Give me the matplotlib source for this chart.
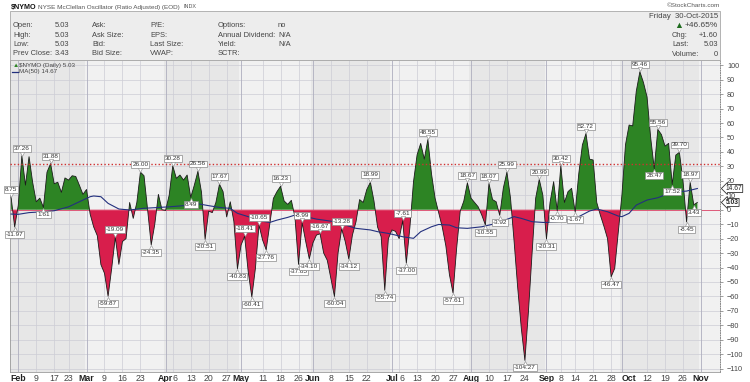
import numpy as np
import pandas as pd
import matplotlib
matplotlib.use('Agg')
import matplotlib.pyplot as plt
from matplotlib.patches import Rectangle

plt.rcParams['font.family'] = ['Liberation Sans', 'DejaVu Sans']

# ---------------- data ----------------
holidays = ['2015-02-16', '2015-04-03', '2015-05-25', '2015-07-03', '2015-09-07']
first_date = '2015-01-29'

# daily NYMO values, one per trading day from 2015-01-29 to 2015-10-30
nymo = [
    8.75, -11.97, 3, 37.26, 17, 36.7, 19, 5.5, 8, 1.61,
    26, 31.88, 18, 19, 12, 22, 20.5, 23.5, 23, 17,
    10.6, 14, -3, -12, -18, -38, -44, -59.87, -40.6, -19.09,
    -37.8, -22, -20, 5, -6, 5, 26.00, 23.5, 0, -24.35,
    -10, 10.6, 0, -0.5, 10, 30.28, 21.7, 24, 20.5, 24,
    8.49, 17, 26.56, 12, -20.51, -1, -2, 5, 17.67, 12.5,
    -5, 5.5, -8, -40.83, -24.5, -18.41, -43, -60.41, -40.6, -10.65,
    -21, -27.76, -10, 7.8, 12.5, 16.23, 6, 3.7, 6.5, -5,
    -37.85, -8.99, -22, -34.10, -23, -17.5, -16.67, -30, -35, -47.5,
    -60.04, -30, -13.28, -22, -34.12, -17.5, -8.3, 7, 5, 14,
    18.99, 6, -12, -18.7, -55.74, -20, -14, -15, -20, -7.61,
    -37.00, -12, 19.4, 38, 45.9, 35, 48.55, 25, 8, -2,
    -12, -25, -45, -57.61, -26.8, -1, 6, 18.67, 8, 5,
    2, -3.7, -10.55, 18.07, 7, 5.5, -3.92, 15, 25.99, 8,
    -22, -54, -82, -104.27, -70, -30, 8, 20.99, 10, -20.31,
    5, 19.4, -0.70, 30.42, 5, 12.5, 14.8, -1.67, 25, 44.8,
    52.72, 35, 34.4, 5, -3.7, -11.5, -20, -46.47, -40.6, -15,
    10, 45, 58.6, 58, 82, 95.46, 88, 78, 50, 28.47,
    55.56, 52, 44, 45.9, 17.52, 37.8, 39.70, 20, -8.45, 18.97,
    3.43, 5.03,
]

# MA(50) read at selected trading-day numbers (0 = 2015-01-29)
ma_day = [0, 2, 5, 9, 12, 16, 19, 22, 23, 25,
          27, 30, 33, 37, 40, 44, 48, 50, 52, 55,
          58, 61, 63, 66, 69, 72, 74, 77, 79, 82,
          85, 87, 90, 93, 96, 100, 102, 105, 109, 112,
          114, 117, 119, 122, 124, 127, 131, 135, 137, 140,
          142, 145, 148, 150, 152, 155, 158, 161, 163, 166,
          169, 170, 172, 174, 177, 180, 183, 186, 188, 191]
ma_vals = [-3, -3.2, -2, -1.4, -0.7, 2, 5.5, 9, 9.5, 9,
           4.4, 0.5, -0.2, 1, 1.4, 2, 2.8, 3.5, 4.1, 2.8,
           1.6, 0.9, -2.5, -4.8, -7.6, -8.8, -7.2, -5.3, -3.7, -4.8,
           -6.5, -7.2, -8.3, -10.6, -12.9, -14, -15.2, -16.4, -18.7, -19.8,
           -15.2, -11.8, -10.2, -10.6, -12.5, -12.9, -11.8, -9.5, -7.6, -4.8,
           -6, -8.3, -8.8, -8.8, -8.3, -6.7, -4.8, -0.9, 0.5, -1.4,
           -4.4, -4.8, -2.5, 3.2, 6.7, 8.3, 11.3, 12.5, 12.9, 14.67]

# labelled extremes (trading-day numbers)
peak_day = [0, 3, 11, 29, 36, 45, 52, 58, 65, 69, 75, 81, 86, 92,
            100, 109, 116, 127, 133, 138, 147, 153, 160, 175, 180, 186, 189]
trough_day = [1, 9, 27, 39, 50, 54, 63, 67, 71, 80, 83, 90, 94, 104,
              110, 123, 132, 136, 143, 149, 152, 157, 167, 179, 184, 188, 190]

tick_dates = ['2015-02-02', '2015-02-09', '2015-02-17', '2015-02-23', '2015-03-02',
              '2015-03-09', '2015-03-16', '2015-03-23', '2015-04-01', '2015-04-06',
              '2015-04-13', '2015-04-20', '2015-04-27', '2015-05-01', '2015-05-11',
              '2015-05-18', '2015-05-26', '2015-06-01', '2015-06-08', '2015-06-15',
              '2015-06-22', '2015-07-01', '2015-07-06', '2015-07-13', '2015-07-20',
              '2015-07-27', '2015-08-03', '2015-08-10', '2015-08-17', '2015-08-24',
              '2015-09-01', '2015-09-08', '2015-09-14', '2015-09-21', '2015-09-28',
              '2015-10-01', '2015-10-12', '2015-10-19', '2015-10-26', '2015-11-02']
tick_labels = ['Feb', '9', '17', '23', 'Mar', '9', '16', '23', 'Apr', '6',
               '13', '20', '27', 'May', '11', '18', '26', 'Jun', '8', '15',
               '22', 'Jul', '6', '13', '20', '27', 'Aug', '10', '17', '24',
               'Sep', '8', '14', '21', '28', 'Oct', '12', '19', '26', 'Nov']
month_starts = ['2015-02-02', '2015-03-02', '2015-04-01', '2015-05-01', '2015-06-01',
                '2015-07-01', '2015-08-03', '2015-09-01', '2015-10-01', '2015-11-02',
                '2015-12-01']

threshold = 31.6

# ---------------- positions on trading-day axis ----------------
cal = pd.bdate_range(first_date, '2015-12-31', freq='C', holidays=holidays)
pos = {d.strftime('%Y-%m-%d'): k for k, d in enumerate(cal)}
vals = np.array(nymo, dtype=float)
x = np.arange(len(vals))

W, H = 750, 382
fig = plt.figure(figsize=(W / 100, H / 100), dpi=100)
fig.patch.set_facecolor('white')

def fx(px):
    return px / W

def fy(py):
    return 1 - py / H

ax = fig.add_axes([fx(10), fy(372), fx(710), (372 - 60) / H])
ax.set_xlim(-0.3, 197.3)
ax.set_ylim(-112.3, 103.6)
ax.set_facecolor('#EEEEEE')

# month shading
shades = ['#E7E7E7', '#F1F1F1']
for k in range(len(month_starts) - 1):
    a = pos[month_starts[k]] - 0.5
    b = pos[month_starts[k + 1]] - 0.5
    if k == 0:
        a = -5
    ax.axvspan(a, b, color=shades[k % 2], lw=0, zorder=0)

# grid
for v in range(-110, 101, 10):
    ax.axhline(v, color='#CDCDD5', lw=0.5, zorder=1)
for d in tick_dates:
    col = '#AEAEBE' if d in month_starts else '#CDCDD5'
    ax.axvline(pos[d], color=col, lw=0.6 if d in month_starts else 0.5, zorder=1)

# fills
ax.fill_between(x, vals, 0, where=vals >= 0, interpolate=True, color='#2D8424', lw=0, zorder=2)
ax.fill_between(x, vals, 0, where=vals <= 0, interpolate=True, color='#D81E4C', lw=0, zorder=2)
ax.plot(x, vals, color='#1B1B1B', lw=0.6, zorder=3)
ax.axhline(0, color='#E0466A', lw=0.6, zorder=2)

# threshold dotted
ax.axhline(threshold, color='#D03030', lw=1.0, ls=(0, (1, 1.6)), zorder=3)

# MA
ax.plot(ma_day, ma_vals, color='#23307E', lw=0.8, zorder=4)

# value labels
box = dict(boxstyle='square,pad=0.15', fc='white', ec='#8A8A8A', lw=0.5)
for k in peak_day:
    ax.annotate(f'{vals[k]:.2f}', xy=(k, vals[k]), xytext=(0, 3.5), textcoords='offset points',
                ha='center', va='bottom', fontsize=4.6, color='#333333', bbox=box, zorder=6)
    ax.plot(k, vals[k] + 1.6, marker='v', ms=3, mfc='white', mec='#8A8A8A', mew=0.4, zorder=6)
for k in trough_day:
    ax.annotate(f'{vals[k]:.2f}', xy=(k, vals[k]), xytext=(0, -3.5), textcoords='offset points',
                ha='center', va='top', fontsize=4.6, color='#333333', bbox=box, zorder=6)
    ax.plot(k, vals[k] - 1.6, marker='^', ms=3, mfc='white', mec='#8A8A8A', mew=0.4, zorder=6)

# axes styling
ax.set_xticks([pos[d] for d in tick_dates])
ax.set_xticklabels(tick_labels)
labels = ax.get_xticklabels()
for j, (lbl, t) in enumerate(zip(labels, tick_labels)):
    lbl.set_fontweight('bold' if not t.isdigit() else 'normal')
    lbl.set_color('#222222' if not t.isdigit() else '#444444')
    # crowded pair: a month start followed closely by a Monday
    if j > 0 and pos[tick_dates[j]] - pos[tick_dates[j - 1]] <= 3:
        lbl.set_horizontalalignment('left')
        lbl.set_x(pos[tick_dates[j]] - 0.6)
ax.tick_params(axis='x', length=0, pad=1.5, labelsize=6.3)
ax.yaxis.tick_right()
ax.set_yticks(range(-110, 101, 10))
ax.tick_params(axis='y', length=2, width=0.5, color='#777777', pad=3, labelsize=5.2, labelcolor='#444444')
for s in ['top', 'left', 'bottom']:
    ax.spines[s].set_color('#9A9A9A')
    ax.spines[s].set_linewidth(0.6)
ax.spines['right'].set_color('#888888')
ax.spines['right'].set_linestyle((0, (1, 1.5)))
ax.spines['right'].set_linewidth(0.7)

# current value tags on right axis
tag = dict(boxstyle='larrow,pad=0.08', fc='white', ec='#333333', lw=0.6)
ax.annotate(f'{ma_vals[-1]:.2f}', xy=(1.0, ma_vals[-1]), xycoords=('axes fraction', 'data'),
            xytext=(4, 0), textcoords='offset points', ha='left', va='center',
            fontsize=4.8, color='#222222', bbox=tag, zorder=7, annotation_clip=False)
ax.annotate(f'{vals[-1]:.2f}', xy=(1.0, vals[-1]), xycoords=('axes fraction', 'data'),
            xytext=(4, 0), textcoords='offset points', ha='left', va='center',
            fontsize=4.8, color='#222222', fontweight='bold', bbox=tag, zorder=7,
            annotation_clip=False)

# legend inside chart
ax.text(0.004, 0.99, '\u25B2', transform=ax.transAxes, fontsize=4.5, color='#2D8424',
        va='top', ha='left', zorder=7)
ax.text(0.012, 0.99, f'$NYMO (Daily) {vals[-1]:.2f}', transform=ax.transAxes, fontsize=4.5,
        color='#444444', va='top', ha='left', zorder=7)
ax.plot([0.003, 0.011], [0.963, 0.963], transform=ax.transAxes, color='#23307E', lw=0.9, zorder=7)
ax.text(0.012, 0.972, f'MA(50) {ma_vals[-1]:.2f}', transform=ax.transAxes, fontsize=4.5,
        color='#444444', va='top', ha='left', zorder=7)

# ---------------- header ----------------
fig.text(fx(11), fy(7), '$NYMO', fontsize=5.2, fontweight='bold', color='#111111', va='center')
fig.text(fx(38.5), fy(7), 'NYSE McClellan Oscillator (Ratio Adjusted) (EOD)', fontsize=4.6,
         color='#555555', va='center')
fig.text(fx(183), fy(7), 'INDX', fontsize=3.9, color='#555555', va='center')
fig.text(fx(720), fy(5.5), '\u00A9StockCharts.com', fontsize=4.6, color='#555555', va='center', ha='right')

fig.patches.append(Rectangle((fx(10), fy(60)), fx(710), (60 - 11) / H, transform=fig.transFigure,
                             fc='#EDEDED', ec='#A8A8A8', lw=0.6, zorder=0))

rows_y = [25.5, 35.3, 44.3, 53.7]
info_cols = [
    (13, ['Open:', 'High:', 'Low:', 'Prev Close:']),
    (55, ['5.03', '5.03', '5.03', '3.43']),
    (92, ['Ask:', 'Ask Size:', 'Bid:', 'Bid Size:']),
    (150, ['P/E:', 'EPS:', 'Last Size:', 'VWAP:']),
    (218, ['Options:', 'Annual Dividend:', 'Yield:', 'SCTR:']),
    (278, ['no', 'N/A', 'N/A', '']),
]
for cx, texts in info_cols:
    for ry, t in zip(rows_y, texts):
        fig.text(fx(cx), fy(ry), t, fontsize=5.4, color='#444444', va='center', ha='left')

fig.text(fx(718), fy(16), 'Friday  30-Oct-2015', fontsize=5.6, color='#444444', va='center', ha='right')
fig.text(fx(679), fy(25.5), '\u25B2', fontsize=6.5, color='#1E6B1E', va='center', ha='center')
fig.text(fx(718), fy(25.5), '+46.65%', fontsize=6.0, color='#444444', va='center', ha='right')
for ry, lab, val in [(35.3, 'Chg:', '+1.60'), (44.5, 'Last:', '5.03'), (54, 'Volume:', '0')]:
    fig.text(fx(672), fy(ry), lab, fontsize=5.4, color='#444444', va='center', ha='left')
    fig.text(fx(718), fy(ry), val, fontsize=5.4, color='#444444', va='center', ha='right')

fig.savefig('out.png', dpi=100)
